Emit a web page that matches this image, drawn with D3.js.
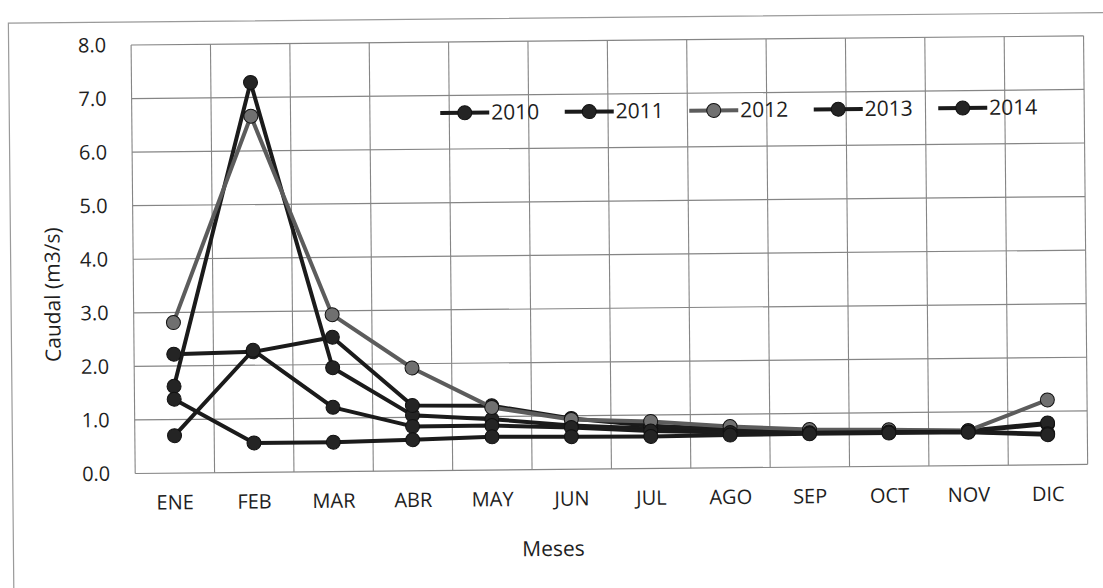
<!DOCTYPE html>
<html><head><meta charset="utf-8">
<script src="https://cdn.jsdelivr.net/npm/d3@7/dist/d3.min.js"></script>
<style>body{margin:0;background:#fff}svg{display:block}text{font-family:"Open Sans","Noto Sans",sans-serif;fill:#1e1e1e}</style>
</head><body><svg id="c" width="1103" height="588"></svg>
<script>
const months = ["ENE","FEB","MAR","ABR","MAY","JUN","JUL","AGO","SEP","OCT","NOV","DIC"];
const years = ["2010","2011","2012","2013","2014"];
const yTicks = [0,1,2,3,4,5,6,7,8];
const s2010 = [1.62,7.28,1.94,1.04,0.95,0.82,0.75,0.70,0.67,0.66,0.64,0.76];
const s2011 = [2.22,2.25,2.51,1.22,1.20,0.95,0.80,0.72,0.68,0.67,0.65,0.78];
const s2012 = [2.81,6.65,2.93,1.92,1.17,0.93,0.88,0.77,0.70,0.68,0.65,1.21];
const s2013 = [0.70,2.28,1.20,0.83,0.83,0.78,0.70,0.66,0.64,0.64,0.63,0.58];
const s2014 = [1.38,0.55,0.55,0.58,0.62,0.61,0.60,0.61,0.62,0.62,0.62,0.56];
const seriesValues = [s2010,s2011,s2012,s2013,s2014];
const lineColors = ["#1b1b1b","#1b1b1b","#5c5c5c","#1b1b1b","#1b1b1b"];
const dotColors = ["#242424","#242424","#707070","#242424","#242424"];

const svg = d3.select("#c");
const g = svg.append("g").attr("transform","rotate(-0.55,551,294)");
const L=133.5,R=1086,T=41,B=469.5;
const x = d3.scaleBand().domain(months).range([L,R]);
const y = d3.scaleLinear().domain([0,8]).range([B,T]);

// outer chart border
g.append("rect").attr("x",11).attr("y",18).attr("width",1100).attr("height",600)
 .attr("fill","none").attr("stroke","#9a9a9a").attr("stroke-width",1.2);

// gridlines
g.append("g").selectAll("line").data(yTicks).join("line")
 .attr("x1",L).attr("x2",R).attr("y1",d=>y(d)).attr("y2",d=>y(d))
 .attr("stroke","#858585").attr("stroke-width",1.2);
g.append("g").selectAll("line").data(months.concat(["end"])).join("line")
 .attr("x1",(d,i)=>L+i*x.step()).attr("x2",(d,i)=>L+i*x.step())
 .attr("y1",T).attr("y2",B).attr("stroke","#858585").attr("stroke-width",1.1);

// y axis
const ya = g.append("g").attr("transform",`translate(${L-22},0)`)
 .call(d3.axisLeft(y).tickValues(yTicks).tickFormat(d3.format(".1f")).tickSize(0));
ya.select(".domain").remove();
ya.selectAll("text").attr("font-size",20).attr("fill","#1e1e1e").attr("font-family","Open Sans");

// x axis
const xa = g.append("g").attr("transform",`translate(0,${B+19})`)
 .call(d3.axisBottom(x).tickSize(0));
xa.select(".domain").remove();
xa.selectAll("text").attr("font-size",20).attr("fill","#1e1e1e").attr("font-family","Open Sans");

// titles
g.append("text").attr("x",551).attr("y",556).attr("text-anchor","middle").attr("font-size",21).text("Meses");
g.append("text").attr("transform","translate(60,290) rotate(-90)").attr("text-anchor","middle").attr("font-size",21).text("Caudal (m3/s)");

// series
const line = d3.line().x((d,i)=>x(months[i])+x.bandwidth()/2).y(d=>y(d));
seriesValues.forEach((vals,k)=>{
  const sg = g.append("g");
  sg.append("path").datum(vals).attr("d",line).attr("fill","none")
    .attr("stroke",lineColors[k]).attr("stroke-width",4).attr("stroke-linejoin","round");
  sg.selectAll("circle").data(vals).join("circle")
    .attr("cx",(d,i)=>x(months[i])+x.bandwidth()/2).attr("cy",d=>y(d)).attr("r",7)
    .attr("fill",dotColors[k]).attr("stroke","#111").attr("stroke-width",1);
});

// legend
const lg = g.append("g");
years.forEach((yr,k)=>{
  const x0 = 442 + k*124.5, ly = 112;
  lg.append("line").attr("x1",x0).attr("x2",x0+49).attr("y1",ly).attr("y2",ly)
    .attr("stroke",lineColors[k]).attr("stroke-width",4);
  lg.append("circle").attr("cx",x0+24.5).attr("cy",ly).attr("r",7).attr("fill",dotColors[k]).attr("stroke","#111");
  lg.append("text").attr("x",x0+51).attr("y",ly+7).attr("font-size",21).text(yr);
});
</script></body></html>
